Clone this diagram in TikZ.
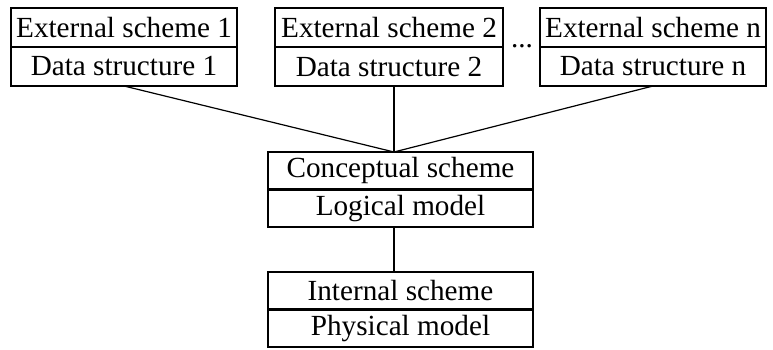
\documentclass[tikz,border=0pt]{standalone}
\usepackage{fontspec}
\setmainfont{Liberation Serif}
\usetikzlibrary{positioning}
\tikzset{
  lnode/.style={rectangle,draw,line width=1.4pt,outer sep=0pt,inner sep=0pt,minimum height=19.5pt,font=\fontsize{14.6}{17}\selectfont},
  enode/.style={lnode,minimum width=113pt},
  cnode/.style={lnode,minimum width=132.5pt,minimum height=18.75pt},
  conn/.style={line width=0.6pt}
}

\begin{document}
\begin{tikzpicture}[x=0.5pt,y=-0.5pt]
\useasboundingbox (0,0) rectangle (773,349);
% external level
\node[enode] (E1) at (124,27.5) {External scheme 1};
\node[enode, below=0pt of E1] (D1) {Data structure 1};
\node[enode, minimum width=114pt] (E2) at (389,27.5) {External scheme 2};
\node[enode, minimum width=114pt, below=0pt of E2] (D2) {Data structure 2};
\node[enode] (En) at (653,27.5) {External scheme n};
\node[enode, below=0pt of En] (Dn) {Data structure n};
\node[font=\fontsize{14.6}{17}\selectfont, inner sep=0pt] (dots) at (522,46) {...};
% conceptual and internal level
\node[cnode] (C) at (400.5,170.75) {Conceptual scheme};
\node[cnode, below=0pt of C] (L) {Logical model};
\node[cnode] (I) at (400.5,290.75) {Internal scheme};
\node[cnode, below=0pt of I] (P) {Physical model};
\coordinate (hub) at (394,152);
\draw[conn] (D1.south) -- (hub);
\draw[conn] (D2.south -| hub) -- (hub);
\draw[conn] (Dn.south) -- (hub);
\draw[conn] (hub |- L.south) -- (hub |- I.north);
\end{tikzpicture}
\end{document}
